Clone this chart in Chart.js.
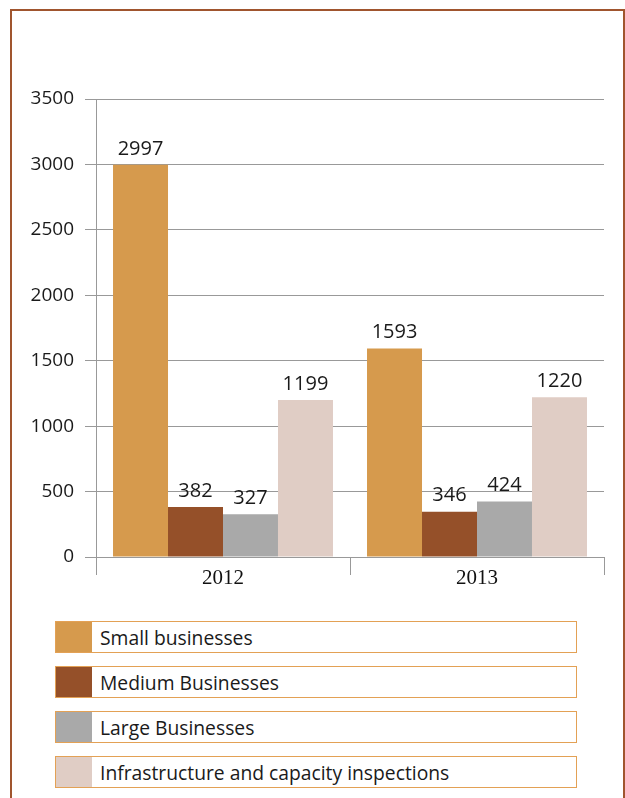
<!DOCTYPE html>
<html>
<head>
<meta charset="utf-8">
<script src="https://cdn.jsdelivr.net/npm/chart.js@4"></script>
<style>
  html, body { margin: 0; padding: 0; background: #fff; width: 625px; height: 798px; overflow: hidden; }
  #frame {
    position: absolute; left: 10px; top: 9px; width: 611px; height: 820px;
    border: 2px solid #a0552e; border-bottom: none;
  }
  #chart-wrap { position: absolute; left: 0; top: 0; width: 625px; height: 600px; }
  #legend { position: absolute; left: 55px; top: 621px; width: 522px; }
  .item {
    position: relative; height: 30px; margin-bottom: 13px;
    border: 1.5px solid #e3a155; display: flex; align-items: center;
    font-family: "Open Sans", sans-serif; font-size: 19.3px; color: #1a1a1a;
  }
  .swatch { width: 36px; height: 100%; margin-right: 8px; }
</style>
</head>
<body>
<div id="frame"></div>
<div id="chart-wrap"><canvas id="chart" width="625" height="600"></canvas></div>
<div id="legend"></div>
<script>
// Years on the x axis
const years = ['2012', '2013'];

// Inspections per business type
const seriesNames = ['Small businesses', 'Medium Businesses', 'Large Businesses', 'Infrastructure and capacity inspections'];
const smallBusinesses = [2997, 1593];
const mediumBusinesses = [382, 346];
const largeBusinesses = [327, 424];
const infrastructure = [1199, 1220];

const seriesColors = ['#d69a4d', '#955029', '#a9a9a9', '#e0cdc5'];

// value labels above each bar
const barLabels = {
    id: 'barLabels',
    afterDatasetsDraw(chart) {
        const ctx = chart.ctx;
        ctx.save();
        ctx.font = '20px "Open Sans", sans-serif';
        ctx.fillStyle = '#1a1a1a';
        ctx.textAlign = 'center';
        ctx.textBaseline = 'bottom';
        chart.data.datasets.forEach((ds, i) => {
            chart.getDatasetMeta(i).data.forEach((bar, j) => {
                ctx.fillText(ds.data[j], bar.x, bar.y - 6);
            });
        });
        ctx.restore();
    }
};

const datasets = [smallBusinesses, mediumBusinesses, largeBusinesses, infrastructure].map((values, i) => ({
    label: seriesNames[i],
    data: values,
    backgroundColor: seriesColors[i],
    borderWidth: 0,
    categoryPercentage: 0.866,
    barPercentage: 1
}));

new Chart(document.getElementById('chart'), {
    type: 'bar',
    data: { labels: years, datasets: datasets },
    options: {
        responsive: false,
        animation: false,
        events: [],
        layout: { padding: { top: 99, right: 21, bottom: 0, left: 0 } },
        plugins: { legend: { display: false }, tooltip: { enabled: false } },
        scales: {
            x: {
                afterFit(scale) { scale.height = 43; },
                grid: { offset: true, drawOnChartArea: false, drawTicks: true, tickLength: 18, color: '#999' },
                border: { color: '#999' },
                ticks: {
                    padding: -9,
                    color: '#111',
                    font: { family: '"Liberation Serif", serif', size: 21 }
                }
            },
            y: {
                min: 0,
                max: 3500,
                afterFit(scale) { scale.width = 96; },
                grid: { color: '#999', tickLength: 11 },
                border: { color: '#999' },
                ticks: {
                    stepSize: 500,
                    padding: 11,
                    color: '#1a1a1a',
                    font: { family: '"Open Sans", sans-serif', size: 19 },
                    callback: (v) => String(v)
                }
            }
        }
    },
    plugins: [barLabels]
});

// boxed legend under the chart
const legend = document.getElementById('legend');
seriesNames.forEach((name, i) => {
    const item = document.createElement('div');
    item.className = 'item';
    const sw = document.createElement('div');
    sw.className = 'swatch';
    sw.style.background = seriesColors[i];
    item.appendChild(sw);
    item.appendChild(document.createTextNode(name));
    legend.appendChild(item);
});
</script>
</body>
</html>
